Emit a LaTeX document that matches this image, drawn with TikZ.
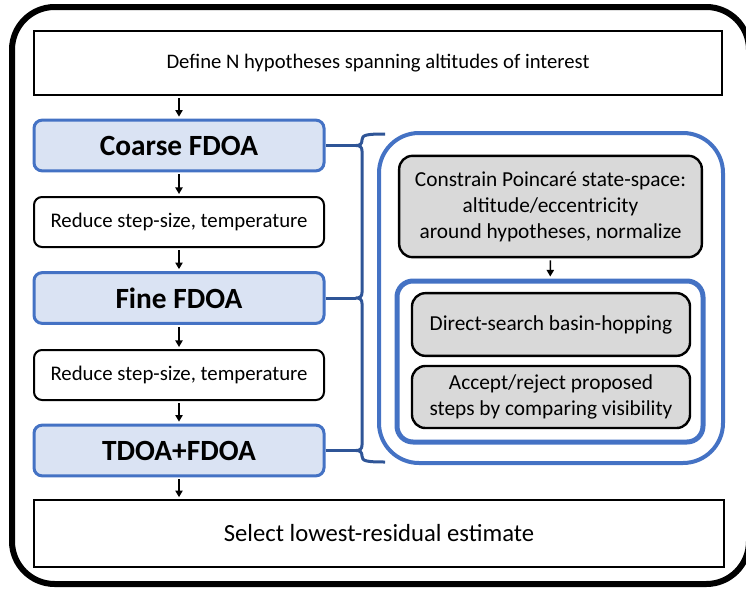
\documentclass[tikz,border=0pt]{standalone}
\usepackage{fontspec}
\setmainfont{Carlito}
\usetikzlibrary{arrows.meta}
\definecolor{bleu}{HTML}{4472C4}
\definecolor{bleuclair}{HTML}{DAE3F3}
\definecolor{bleufonce}{HTML}{2F5597}
\definecolor{gris}{HTML}{D9D9D9}
\tikzset{
  etape/.style={draw,line width=1.5pt,minimum width=217.5pt,minimum height=37.5pt,rounded corners=6pt,font=\fontsize{15.6}{19}\selectfont},
  phase/.style={draw=bleu,fill=bleuclair,line width=2.25pt,minimum width=217.5pt,minimum height=38pt,rounded corners=6pt,font=\fontsize{22}{26}\selectfont\bfseries},
  cadre/.style={draw,line width=1.5pt,minimum width=516pt},
  boite/.style={draw,fill=gris,line width=1.8pt,rounded corners=10pt,align=center,font=\fontsize{16}{19.5}\selectfont},
  fleche/.style={-{Triangle[length=5pt,width=5.5pt]},line width=1.1pt,shorten <=1.5pt,shorten >=1.5pt},
}
\begin{document}
\begin{tikzpicture}[x=0.75pt,y=-0.75pt]
  \useasboundingbox (0,0) rectangle (746,589);
  \draw [line width=4.5pt,rounded corners=32pt] (12,7) rectangle (749,584);
  % colonne de gauche
  \node[cadre,minimum height=48pt,font=\fontsize{15.5}{18}\selectfont] (hyp) at (378,63) {Define N hypotheses spanning altitudes of interest};
  \node[phase] (coarse) at (179,145.5) {Coarse FDOA};
  \node[etape] (red1) at (179,222) {Reduce step-size, temperature};
  \node[phase] (fine) at (179,298) {Fine FDOA};
  \node[etape] (red2) at (179,375) {Reduce step-size, temperature};
  \node[phase] (tdoa) at (179,450.5) {TDOA+FDOA};
  \node[cadre,minimum width=517.5pt,minimum height=50pt,font=\fontsize{18.5}{22}\selectfont] (sel) at (379,533.5) {Select lowest-residual estimate};
  \draw[fleche] (hyp.south -| coarse) -- (coarse);
  \draw[fleche] (coarse) -- (red1);
  \draw[fleche] (red1) -- (fine);
  \draw[fleche] (fine) -- (red2);
  \draw[fleche] (red2) -- (tdoa);
  \draw[fleche] (tdoa) -- (tdoa |- sel.north);
  % accolade
  \def\accolade{(385,134) .. controls (366,134) and (362,135) .. (362,140)
    .. controls (362,144) and (360,145.5) .. (356,145.5)
    .. controls (360,145.5) and (362,147) .. (362,151)
    -- (362,292.5) .. controls (362,296.5) and (360,298) .. (356,298)
    .. controls (360,298) and (362,299.5) .. (362,303.5)
    -- (362,445) .. controls (362,449) and (360,450.5) .. (356,450.5)
    .. controls (360,450.5) and (362,452) .. (362,456)
    .. controls (362,461) and (366,462) .. (385,462)}
  \draw [bleufonce,line width=2.25pt,line join=round] \accolade;
  \coordinate (p1) at (356,145.5);
  \coordinate (p2) at (356,298);
  \coordinate (p3) at (356,450.5);
  \draw [bleufonce,line width=2.25pt] (coarse.east) -- (p1);
  \draw [bleufonce,line width=2.25pt] (fine.east) -- (p2);
  \draw [bleufonce,line width=2.25pt] (tdoa.east) -- (p3);
  % partie droite
  \node[draw=bleu,line width=3pt,rounded corners=30pt,minimum width=258pt,minimum height=247.5pt] (outil) at (551,298) {};
  \node[boite,minimum width=227pt,minimum height=76pt] (poinc) at (550.5,206.5) {Constrain Poincaré state-space:\\altitude/eccentricity\\around hypotheses, normalize};
  \node[draw=bleu,line width=3.75pt,rounded corners=12pt,minimum width=229.5pt,minimum height=120.75pt] (boucle) at (550,361.5) {};
  \node[boite,minimum width=208.5pt,minimum height=47pt] (direct) at (551,324.5) {Direct-search basin-hopping};
  \node[boite,minimum width=208.5pt,minimum height=46.5pt] (accept) at (551,397) {Accept/reject proposed\\steps by comparing visibility};
  \draw[fleche] (poinc) -- (boucle);
\end{tikzpicture}
\end{document}
